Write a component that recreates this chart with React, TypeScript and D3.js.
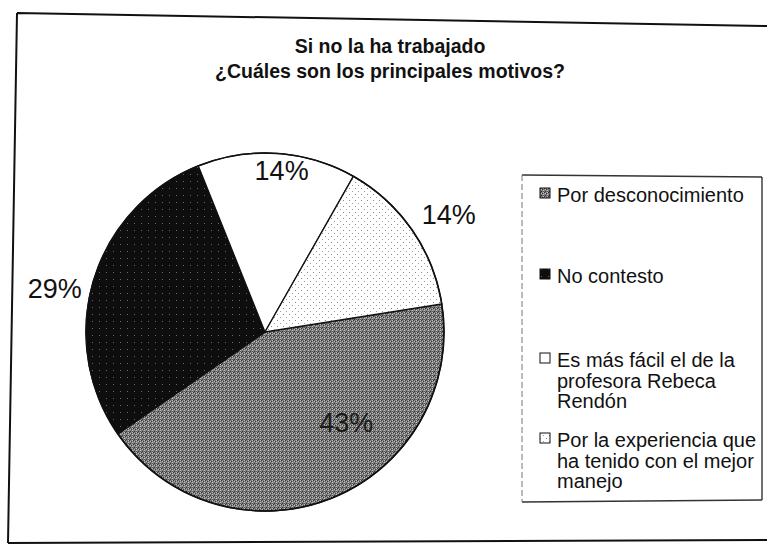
import React from "react";
import * as d3 from "d3";

// ---- data ----
const titleLines = ["Si no la ha trabajado", "¿Cuáles son los principales motivos?"];
const categories = [
  "Por desconocimiento",
  "No contesto",
  "Es más fácil el de la profesora Rebeca Rendón",
  "Por la experiencia que ha tenido con el mejor manejo",
];
const legendLines = [
  ["Por desconocimiento"],
  ["No contesto"],
  ["Es más fácil el de la", "profesora Rebeca", "Rendón"],
  ["Por la experiencia que", "ha tenido con el mejor", "manejo"],
];
const responses = [3, 2, 1, 1]; // shown as 43%, 29%, 14%, 14%

// ---- layout ----
const W = 767;
const H = 553;
const cx = 265;
const cy = 332;
const R = 179;
const startDeg = 81;
const labelShiftDeg = [-20, -5, 2, 2];
const labelRadius = [0.68, 1.2, 0.91, 1.22];
const fills = ["url(#pGray)", "url(#pBlack)", "#ffffff", "url(#pDots)"];
const legendRowY = [202, 283, 367, 447];
const legendLineH = 20.5;
const FONT = "'Liberation Sans', Arial, Helvetica, sans-serif";

export default function App() {
  const pie = d3
    .pie<number>()
    .sort(null)
    .value((d) => d)
    .startAngle((startDeg * Math.PI) / 180)
    .endAngle((startDeg * Math.PI) / 180 + 2 * Math.PI);
  const arcs = pie(responses);
  const arcGen = d3.arc<d3.PieArcDatum<number>>().innerRadius(0).outerRadius(R);
  const total = d3.sum(responses);
  const fmt = d3.format(".0%");

  const labelPos = arcs.map((a, i) => {
    const mid = (a.startAngle + a.endAngle) / 2 + (labelShiftDeg[i] * Math.PI) / 180;
    const r = R * labelRadius[i];
    return [cx + r * Math.sin(mid), cy - r * Math.cos(mid)];
  });

  return (
    <svg
      width={W}
      height={H}
      style={{ position: "absolute", left: 0, top: 0, background: "#fff" }}
      fontFamily={FONT}
    >
      <defs>
        <pattern id="pGray" width="4" height="4" patternUnits="userSpaceOnUse">
          <rect width="4" height="4" fill="#7d7d7d" />
          <rect x="0" y="0" width="1" height="1" fill="#333" />
          <rect x="2" y="1" width="1" height="1" fill="#3c3c3c" />
          <rect x="1" y="3" width="1" height="1" fill="#333" />
          <rect x="3" y="3" width="1" height="1" fill="#555" />
          <rect x="3" y="2" width="1" height="1" fill="#c4c4c4" />
          <rect x="1" y="1" width="1" height="1" fill="#b8b8b8" />
          <rect x="3" y="0" width="1" height="1" fill="#c0c0c0" />
        </pattern>
        <pattern id="pBlack" width="7" height="7" patternUnits="userSpaceOnUse">
          <rect width="7" height="7" fill="#0e0e0e" />
          <rect x="2" y="3" width="1" height="1" fill="#6a6a6a" />
        </pattern>
        <pattern id="pDots" width="6" height="6" patternUnits="userSpaceOnUse">
          <rect width="6" height="6" fill="#fff" />
          <rect x="0" y="0" width="1" height="1" fill="#8a8a8a" />
          <rect x="3" y="3" width="1" height="1" fill="#a0a0a0" />
        </pattern>
      </defs>

      {/* outer (scanned, slightly rotated) frame */}
      <path
        d="M17,13 L767,26 M17,13 L8,543 M8,543 L767,540"
        fill="none"
        stroke="#111"
        strokeWidth={2}
      />

      {/* title */}
      <text x={390} y={53} textAnchor="middle" fontWeight="bold" fontSize={19.5} fill="#111">
        {titleLines[0]}
      </text>
      <text x={390} y={78} textAnchor="middle" fontWeight="bold" fontSize={19.5} fill="#111">
        {titleLines[1]}
      </text>

      {/* pie */}
      <g transform={`translate(${cx},${cy})`}>
        {arcs.map((a, i) => (
          <path
            key={categories[i]}
            d={arcGen(a) || ""}
            fill={fills[i]}
            stroke="#111"
            strokeWidth={1.3}
          />
        ))}
        <circle r={R} fill="none" stroke="#111" strokeWidth={1.6} />
      </g>

      {/* labels */}
      {arcs.map((a, i) => (
        <text
          key={"l" + i}
          x={labelPos[i][0]}
          y={labelPos[i][1]}
          dy="0.36em"
          textAnchor="middle"
          fontSize={27}
          fill={i === 0 ? "#1a1a1a" : "#111"}
        >
          {fmt(a.data / total)}
        </text>
      ))}

      {/* legend */}
      <g>
        <line x1={522} y1={175} x2={762} y2={177} stroke="#333" strokeWidth={1.3} />
        <line x1={762} y1={177} x2={762} y2={500} stroke="#222" strokeWidth={1.3} />
        <line x1={522} y1={502} x2={762} y2={500} stroke="#333" strokeWidth={1.3} />
        <line
          x1={522}
          y1={175}
          x2={522}
          y2={502}
          stroke="#777"
          strokeWidth={1}
          strokeDasharray="6 3"
        />
        {legendLines.map((lines, i) => (
          <g key={"lg" + i}>
            <rect
              x={540}
              y={legendRowY[i] - 14}
              width={10}
              height={10}
              fill={fills[i]}
              stroke="#111"
              strokeWidth={1}
            />
            {lines.map((t, j) => (
              <text
                key={j}
                x={557}
                y={legendRowY[i] + j * legendLineH}
                fontSize={20}
                fill="#111"
              >
                {t}
              </text>
            ))}
          </g>
        ))}
      </g>
    </svg>
  );
}
